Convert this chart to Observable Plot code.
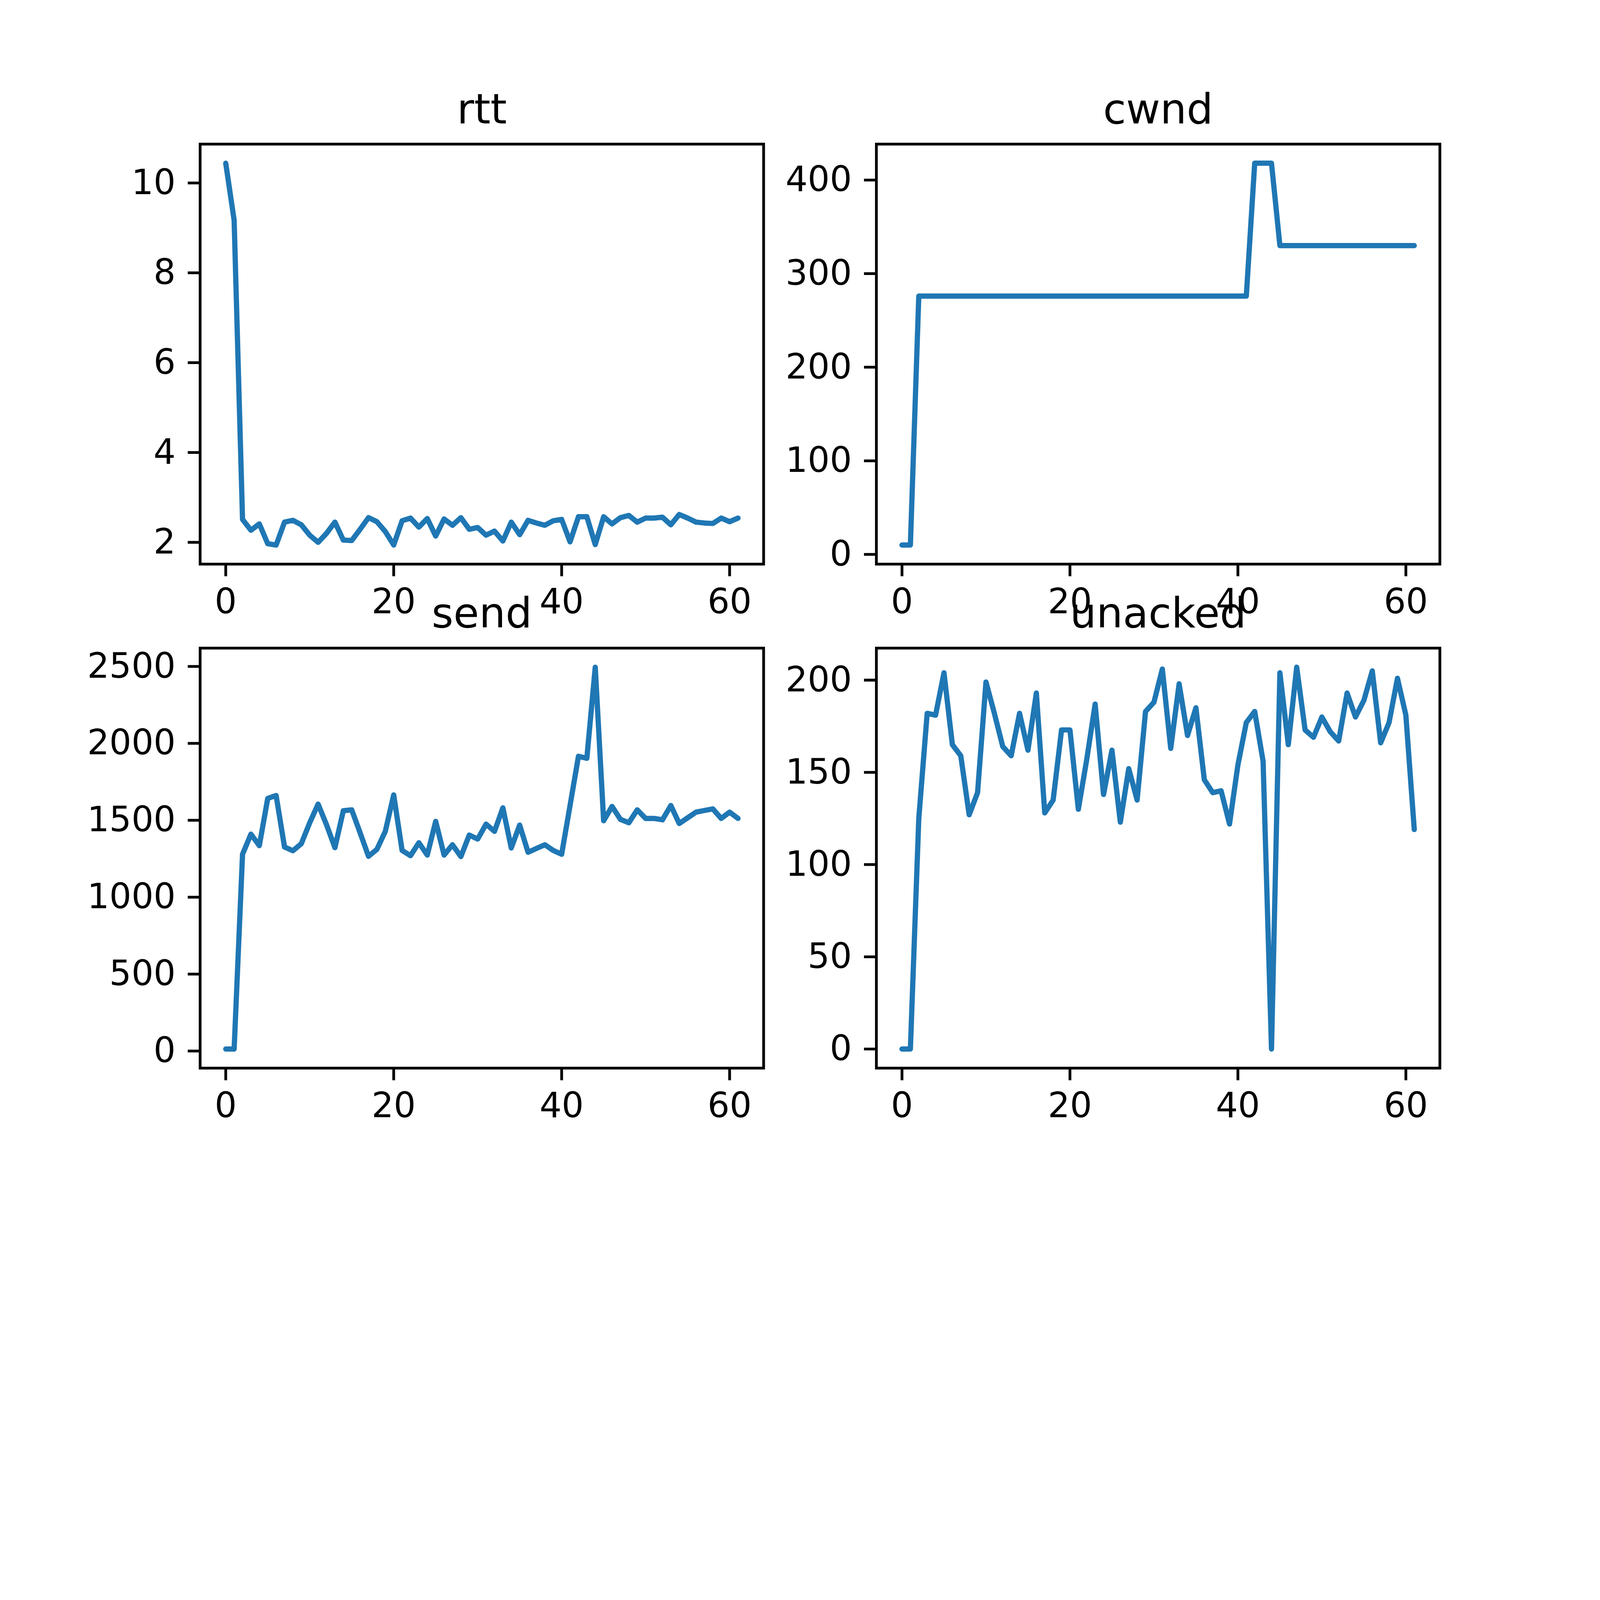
<!DOCTYPE html>
<html>
<head>
<meta charset="utf-8">
<script src="https://cdn.jsdelivr.net/npm/d3@7"></script>
<script src="https://cdn.jsdelivr.net/npm/@observablehq/plot@0.6"></script>
<style>
  html, body { margin: 0; background: #fff; overflow: hidden; }
  #fig { position: absolute; left: 0; top: 0; width: 6400px; height: 4800px; background: #fff;
         font-family: "DejaVu Sans", sans-serif; transform-origin: 0 0; }
  #fig svg { position: absolute; overflow: visible; }
</style>
</head>
<body>
<div id="fig"></div>
<script>
// values, index 0..61
const rtt = [10.44, 9.17, 2.51, 2.27, 2.41, 1.97, 1.94, 2.45, 2.49, 2.39, 2.16, 2.0, 2.2, 2.45, 2.05, 2.04,
  2.29, 2.55, 2.46, 2.24, 1.94, 2.48, 2.54, 2.34, 2.53, 2.14, 2.52, 2.38, 2.55, 2.29, 2.33, 2.16, 2.25, 2.03,
  2.45, 2.17, 2.49, 2.43, 2.38, 2.48, 2.51, 2.01, 2.57, 2.57, 1.95, 2.57, 2.41, 2.55, 2.6, 2.45, 2.54, 2.54,
  2.56, 2.39, 2.62, 2.54, 2.45, 2.43, 2.42, 2.54, 2.46, 2.54];
const cwnd = [10, 10, ...Array(40).fill(276), 418, 418, 418, ...Array(17).fill(330)];
const send = [13, 13, 1279, 1410, 1335, 1642, 1661, 1326, 1302, 1348, 1484, 1605, 1471, 1322, 1562, 1568,
  1419, 1266, 1311, 1428, 1665, 1304, 1270, 1354, 1274, 1493, 1274, 1341, 1264, 1404, 1378, 1475, 1428, 1581,
  1320, 1469, 1292, 1317, 1341, 1304, 1279, 1596, 1916, 1903, 2495, 1497, 1590, 1506, 1484, 1568, 1512, 1512,
  1503, 1596, 1479, 1516, 1553, 1564, 1574, 1512, 1553, 1512];
const unacked = [0, 0, 125, 182, 181, 204, 165, 159, 127, 139, 199, 182, 164, 159, 182, 162, 193, 128, 135,
  173, 173, 130, 157, 187, 138, 162, 123, 152, 135, 183, 188, 206, 163, 198, 170, 185, 146, 139, 140, 122,
  154, 177, 183, 156, 0, 204, 165, 207, 173, 169, 180, 172, 167, 193, 180, 189, 205, 166, 177, 201, 181, 119];

const xTicks = [0, 20, 40, 60];

const W = 2254, H = 1680;
const mL = 500, mR = 60, mT = 320, mB = 320;
const fig = document.getElementById("fig");

function panel(title, values, yTicks, left, top) {
  const data = values.map((v, i) => ({i, v}));
  const lo = d3.min(values), hi = d3.max(values), pad = (hi - lo) * 0.05;
  const chart = Plot.plot({
    width: W + mL + mR,
    height: H + mT + mB,
    marginLeft: mL, marginRight: mR, marginTop: mT, marginBottom: mB,
    style: {fontFamily: "DejaVu Sans", fontSize: "139px", color: "black", background: "transparent"},
    x: {domain: [-3.05, 64.05]},
    y: {domain: [lo - pad, hi + pad]},
    marks: [
      Plot.line(data, {x: "i", y: "v", stroke: "#1f77b4", strokeWidth: 21}),
      Plot.frame({strokeWidth: 11, stroke: "black"}),
      Plot.axisX({ticks: xTicks, tickFormat: d => String(d), tickSize: 49, tickPadding: 49, strokeWidth: 11, fontSize: 139, label: null}),
      Plot.axisY({ticks: yTicks, tickFormat: d => String(d), tickSize: 49, tickPadding: 49, strokeWidth: 11, fontSize: 139, label: null}),
      Plot.text([title], {frameAnchor: "top", dy: -83, lineAnchor: "bottom", fontSize: 167, fill: "black"})
    ]
  });
  chart.style.left = (left - mL) + "px";
  chart.style.top = (top - mT) + "px";
  fig.append(chart);
}

panel("rtt", rtt, [2, 4, 6, 8, 10], 800, 576);
panel("cwnd", cwnd, [0, 100, 200, 300, 400], 3505, 576);
panel("send", send, [0, 500, 1000, 1500, 2000, 2500], 800, 2592);
panel("unacked", unacked, [0, 50, 100, 150, 200], 3505, 2592);

// fit the 6400x4800 figure into whatever viewport we get
function fit() {
  const k = Math.min(window.innerWidth / 6400, window.innerHeight / 4800);
  fig.style.transform = `scale(${k})`;
}
fit();
window.addEventListener("resize", fit);
</script>
</body>
</html>
